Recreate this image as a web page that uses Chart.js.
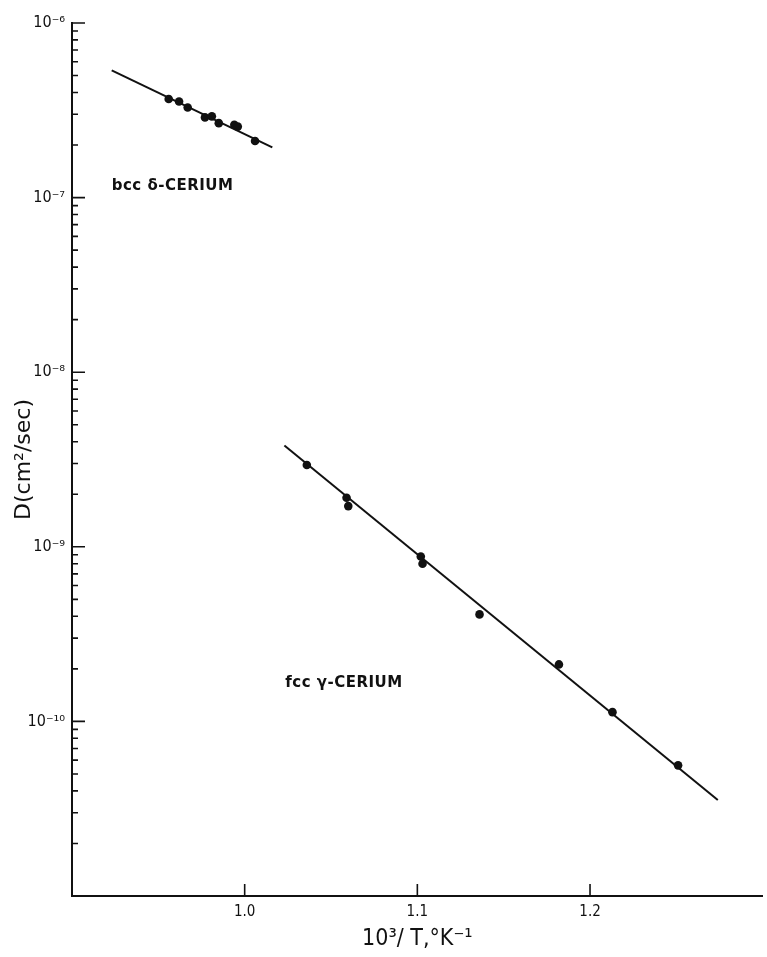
<!DOCTYPE html>
<html>
<head>
<meta charset="utf-8">
<script src="https://cdn.jsdelivr.net/npm/chart.js@4/dist/chart.umd.min.js"></script>
<style>
  html, body { margin: 0; padding: 0; background: #fff; }
  #wrap { width: 767px; height: 957px; }
</style>
</head>
<body>
<div id="wrap"><canvas id="chart" width="767" height="957"></canvas></div>
<script>
// values: 10^3/T (1/K) and D (cm^2/sec)
const bccX = [0.956, 0.962, 0.967, 0.977, 0.981, 0.985, 0.994, 0.996, 1.006];
const bccD = [3.67e-7, 3.55e-7, 3.28e-7, 2.88e-7, 2.92e-7, 2.67e-7, 2.61e-7, 2.55e-7, 2.11e-7];
const fccX = [1.036, 1.059, 1.060, 1.102, 1.103, 1.136, 1.182, 1.213, 1.251];
const fccD = [2.94e-9, 1.91e-9, 1.71e-9, 8.8e-10, 8.0e-10, 4.1e-10, 2.12e-10, 1.13e-10, 5.6e-11];

// fitted lines (end points)
const bccFitX = [0.923, 1.016];
const bccFitD = [5.35e-7, 1.94e-7];
const fccFitX = [1.023, 1.274];
const fccFitD = [3.8e-9, 3.55e-11];

// axis ticks
const xTickValues = [1.0, 1.1, 1.2];
const xTickLabels = ['1.0', '1.1', '1.2'];
const yTickValues = [1e-10, 1e-9, 1e-8, 1e-7, 1e-6];
const yTickLabels = ['10\u207B\u00B9\u2070', '10\u207B\u2079', '10\u207B\u2078', '10\u207B\u2077', '10\u207B\u2076'];

const NARROW = "'Liberation Sans Narrow', 'DejaVu Sans Condensed', 'Liberation Sans', sans-serif";
const WIDE = "'DejaVu Sans', 'Liberation Sans', sans-serif";
const INK = '#111';

const pts = (xs, ys) => xs.map((x, i) => ({ x: x, y: ys[i] }));
const near = (a, b) => Math.abs(a - b) <= Math.abs(b) * 1e-6;

// tick marks point into the plot, major ones longer
const inwardTicks = {
  id: 'inwardTicks',
  afterDraw(chart) {
    const ctx = chart.ctx;
    const area = chart.chartArea;
    const xs = chart.scales.x, ys = chart.scales.y;
    ctx.save();
    ctx.strokeStyle = INK;
    ctx.lineWidth = 1.6;
    ctx.beginPath();
    ys.ticks.forEach(t => {
      const py = ys.getPixelForValue(t.value);
      if (py > area.bottom - 1) return;
      const len = yTickValues.some(v => near(t.value, v)) ? 13 : 6;
      ctx.moveTo(area.left, py);
      ctx.lineTo(area.left + len, py);
    });
    xTickValues.forEach(v => {
      const px = xs.getPixelForValue(v);
      ctx.moveTo(px, area.bottom);
      ctx.lineTo(px, area.bottom - 12);
    });
    ctx.stroke();
    ctx.restore();
  }
};

// phase labels, placed in data coordinates
const phaseLabels = {
  id: 'phaseLabels',
  afterDatasetsDraw(chart) {
    const ctx = chart.ctx;
    const xs = chart.scales.x, ys = chart.scales.y;
    const items = [
      { text: 'bcc \u03B4-CERIUM', x: 0.923, y: 1.16e-7 },
      { text: 'fcc \u03B3-CERIUM', x: 1.0235, y: 1.66e-10 }
    ];
    ctx.save();
    ctx.fillStyle = INK;
    ctx.font = '600 15px ' + WIDE;
    if ('letterSpacing' in ctx) ctx.letterSpacing = '0.5px';
    ctx.textAlign = 'left';
    ctx.textBaseline = 'middle';
    items.forEach(it => ctx.fillText(it.text, xs.getPixelForValue(it.x), ys.getPixelForValue(it.y)));
    ctx.restore();
  }
};

new Chart(document.getElementById('chart'), {
  type: 'scatter',
  data: {
    datasets: [
      { label: 'bcc fit', data: pts(bccFitX, bccFitD), showLine: true, borderColor: INK, borderWidth: 2, pointRadius: 0 },
      { label: 'fcc fit', data: pts(fccFitX, fccFitD), showLine: true, borderColor: INK, borderWidth: 2, pointRadius: 0 },
      { label: 'bcc', data: pts(bccX, bccD), pointRadius: 4.3, backgroundColor: INK, borderColor: INK, borderWidth: 0 },
      { label: 'fcc', data: pts(fccX, fccD), pointRadius: 4.3, backgroundColor: INK, borderColor: INK, borderWidth: 0 }
    ]
  },
  options: {
    responsive: false,
    animation: false,
    layout: { padding: { top: 23, right: 0, left: 0, bottom: 0 } },
    plugins: { legend: { display: false }, tooltip: { enabled: false } },
    scales: {
      x: {
        type: 'linear',
        min: 0.9,
        max: 1.3,
        afterFit: s => { s.height = 61; },
        afterBuildTicks: s => { s.ticks = xTickValues.map(v => ({ value: v })); },
        grid: { display: true, drawOnChartArea: false, drawTicks: false, color: 'rgba(0,0,0,0)' },
        border: { display: true, color: INK, width: 2 },
        ticks: {
          autoSkip: false,
          padding: 7,
          color: INK,
          font: { family: NARROW, size: 15 },
          callback: v => {
            const i = xTickValues.findIndex(t => Math.abs(t - v) < 1e-6);
            return i >= 0 ? xTickLabels[i] : '';
          }
        },
        title: {
          display: true,
          text: '10\u00B3/ T,\u00B0K\u207B\u00B9',
          color: INK,
          font: { family: NARROW, size: 23 },
          padding: { top: 0, bottom: 4 }
        }
      },
      y: {
        type: 'logarithmic',
        min: 1e-11,
        max: 1e-6,
        afterFit: s => { s.width = 72; },
        afterBuildTicks: s => {
          // keep only 1..9 x 10^n marks
          s.ticks = s.ticks.filter(t => {
            const m = t.value / Math.pow(10, Math.floor(Math.log10(t.value) + 1e-9));
            return Math.abs(m - Math.round(m)) < 1e-6;
          });
        },
        grid: { display: true, drawOnChartArea: false, drawTicks: false, color: 'rgba(0,0,0,0)' },
        border: { display: true, color: INK, width: 2 },
        ticks: {
          autoSkip: false,
          padding: 7,
          color: INK,
          font: { family: NARROW, size: 16 },
          callback: v => {
            const i = yTickValues.findIndex(t => near(v, t));
            return i >= 0 ? yTickLabels[i] : '';
          }
        },
        title: {
          display: true,
          text: 'D(cm\u00B2/sec)',
          color: INK,
          font: { family: WIDE, size: 22 },
          padding: { top: 11, bottom: 0 }
        }
      }
    }
  },
  plugins: [inwardTicks, phaseLabels]
});
</script>
</body>
</html>
